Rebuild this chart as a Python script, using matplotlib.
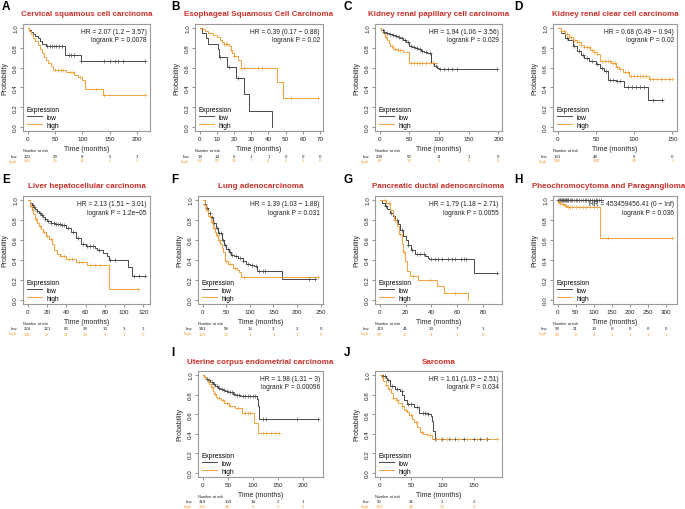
import matplotlib
matplotlib.use('Agg')
import matplotlib.pyplot as plt
import numpy as np
from matplotlib.lines import Line2D
from matplotlib.transforms import blended_transform_factory

plt.rcParams['font.family'] = ['Liberation Sans', 'DejaVu Sans']

# ---------------- data ----------------
A_low_t = [0, 3, 6, 10, 14, 18, 22, 27, 33, 68, 97, 215]
A_low_s = [1, .98, .96, .94, .92, .90, .87, .84, .815, .725, .665, .665]
A_high_t = [0, 3, 6, 10, 14, 18, 22, 26, 30, 34, 38, 42, 46, 56, 70, 85, 92, 100, 104, 138, 215]
A_high_s = [1, .97, .94, .90, .87, .83, .79, .75, .71, .68, .65, .62, .58, .575, .555, .53, .50, .47, .385, .32, .32]
A_low_c = [36, 40, 44, 48, 52, 58, 62, 75, 80, 85, 98, 140, 150, 160, 165, 175, 215]
A_high_c = [50, 55, 60, 65, 78, 82, 95, 125, 140, 215]
A_risk_t = [0, 50, 100, 150, 200]
A_risk_low = [122, 29, 8, 5, 1]
A_risk_high = [182, 33, 12, 2, 1]

B_low_t = [0, 1.5, 3.5, 5, 10.5, 11.5, 16, 21, 25.5, 28.5, 42]
B_low_s = [1, .95, .90, .84, .79, .71, .61, .49, .33, .16, 0]
B_high_t = [0, 1, 3, 5, 8, 10, 12, 13, 14, 17, 18, 19, 20, 22, 24, 45, 48.5, 69]
B_high_s = [1, .99, .97, .95, .93, .91, .88, .86, .84, .82, .78, .75, .72, .68, .60, .45, .29, .29]
B_low_c = [12, 17, 22]
B_high_c = [14, 15, 16, 18, 20, 24, 26, 34, 36, 53, 69]
B_risk_t = [0, 10, 20, 30, 40, 50, 60, 70]
B_risk_low = [19, 14, 6, 1, 1, 0, 0, 0]
B_risk_high = [62, 50, 16, 7, 4, 2, 1, 0]

C_low_t = [0, 3, 6, 10, 15, 20, 25, 30, 35, 40, 45, 50, 55, 60, 65, 70, 75, 80, 87, 92, 97, 100, 198]
C_low_s = [1, .98, .96, .95, .94, .93, .92, .91, .90, .88, .86, .82, .81, .80, .79, .77, .76, .75, .65, .62, .60, .59, .59]
C_high_t = [0, 3, 6, 9, 12, 15, 18, 22, 30, 40, 50, 97]
C_high_s = [1, .98, .95, .91, .88, .85, .82, .79, .78, .76, .65, .65]
C_low_c = [5, 8, 12, 18, 22, 28, 32, 38, 42, 48, 53, 58, 62, 68, 72, 78, 84, 90, 95, 102, 108, 115, 122, 130, 198]
C_high_c = [10, 20, 25, 30, 35, 52, 58, 62, 66, 72, 78, 85, 90]
C_risk_t = [0, 50, 100, 150, 200]
C_risk_low = [200, 53, 11, 1, 0]
C_risk_high = [87, 30, 1, 0, 0]

D_low_t = [0, 5, 10, 14, 20, 25, 30, 35, 41, 50, 55, 61, 65.6, 76, 87, 118, 136]
D_low_s = [1, .95, .90, .88, .82, .77, .73, .70, .667, .637, .60, .57, .475, .46, .40, .27, .27]
D_high_t = [0, 5, 10, 15, 20, 25, 30, 35, 42, 47, 51.5, 55, 62, 70, 76, 80, 85, 93.5, 119, 150]
D_high_s = [1, .97, .94, .91, .88, .855, .83, .81, .78, .76, .74, .67, .665, .65, .61, .59, .56, .52, .48, .48]
D_low_c = [12, 22, 28, 33, 38, 45, 52, 58, 63, 68, 72, 78, 82, 92, 97, 102, 108, 113, 125, 136]
D_high_c = [5, 8, 12, 15, 18, 22, 25, 28, 31, 35, 38, 41, 45, 48, 52, 58, 62, 66, 68, 72, 75, 78, 82,
            88, 92, 96, 100, 104, 108, 112, 116, 121, 125, 130, 135, 140, 145, 150]
D_risk_t = [0, 50, 100, 150]
D_risk_low = [131, 48, 6, 0]
D_risk_high = [395, 180, 34, 1]

E_low_t = [0, 2, 4, 6, 8, 10, 12, 14, 16, 18, 20, 24, 28, 35, 40, 45, 50, 55, 60, 70, 72, 78, 82, 84, 104, 108, 122]
E_low_s = [1, .97, .95, .93, .91, .89, .87, .85, .83, .81, .79, .77, .76, .755, .72, .68, .62, .56, .54, .52, .50, .47, .44, .40, .33, .24, .24]
E_high_t = [0, 2, 4, 6, 8, 10, 12, 14, 16, 19, 22, 25, 27, 30, 33, 40, 50, 61, 84, 114]
E_high_s = [1, .94, .90, .86, .81, .77, .74, .71, .68, .64, .61, .56, .50, .46, .44, .41, .38, .35, .11, .11]
E_low_c = [5, 7, 10, 13, 15, 18, 21, 24, 27, 29, 31, 33, 36, 38, 42, 47, 52, 57, 62, 65, 68, 74, 85, 91, 110, 115, 122]
E_high_c = [3, 5, 9, 13, 17, 20, 24, 35, 38, 43, 46, 53, 56, 65, 70, 75, 114]
E_risk_t = [0, 20, 40, 60, 80, 100, 120]
E_risk_low = [224, 121, 60, 28, 13, 3, 1]
E_risk_high = [140, 57, 21, 13, 6, 1, 0]

F_low_t = [0, 4, 8, 12, 16, 22, 28, 33, 40, 45, 50, 55, 60, 67, 75, 85, 92, 100, 109, 116, 167, 238]
F_low_s = [1, .96, .92, .87, .83, .77, .72, .67, .60, .55, .51, .48, .455, .44, .42, .39, .36, .35, .34, .29, .215, .215]
F_high_t = [0, 4, 8, 12, 17, 22, 26, 29, 33, 36, 40, 43, 47, 54, 64, 72, 78, 82, 245]
F_high_s = [1, .95, .90, .84, .78, .72, .68, .65, .60, .565, .52, .48, .39, .36, .32, .30, .285, .23, .23]
F_low_c = [5, 10, 15, 20, 25, 30, 35, 38, 44, 48, 53, 58, 63, 70, 80, 86, 96, 104, 112, 120, 127, 132, 225, 238]
F_high_c = [6, 10, 15, 20, 25, 30, 35, 50, 58, 68, 88, 245]
F_risk_t = [0, 50, 100, 150, 200, 250]
F_risk_low = [341, 58, 15, 3, 2, 0]
F_risk_high = [153, 16, 1, 1, 1, 0]

G_low_t = [0, 2, 4, 6, 8, 10, 12, 14, 16, 18, 20, 22, 24, 27, 35, 37, 38, 73, 91]
G_low_s = [1, .97, .94, .91, .87, .84, .80, .76, .70, .64, .60, .55, .50, .465, .44, .42, .41, .27, .27]
G_high_t = [0, 5, 8, 10, 11, 13, 15, 17, 18, 19.5, 21, 23.5, 30, 44, 50, 68]
G_high_s = [1, .97, .90, .85, .80, .74, .66, .56, .48, .39, .29, .24, .20, .14, .07, 0]
G_low_c = [5, 9, 13, 17, 22, 25, 29, 31, 34, 40, 43, 45, 48, 53, 56, 58, 63, 65, 67, 91]
G_high_c = [4, 7, 12, 16, 19, 26, 39, 58]
G_risk_t = [0, 20, 40, 60, 80]
G_risk_low = [119, 41, 13, 7, 1]
G_risk_high = [58, 17, 4, 1, 0]

H_low_t = [0, 125]
H_low_s = [1, 1]
H_high_t = [0, 2, 5, 10, 17, 22, 26, 118, 318]
H_high_s = [1, .985, .975, .965, .95, .94, .93, .62, .62]
H_low_c = [2, 4, 6, 8, 10, 12, 14, 16, 18, 20, 22, 24, 26, 28, 30, 33, 36, 40, 45, 50, 55, 60, 65,
           70, 75, 80, 85, 90, 95, 100, 105, 110, 115, 120]
H_high_c = [4, 8, 14, 20, 24, 30, 35, 40, 50, 60, 70, 80, 90, 100, 110, 140, 318]
H_risk_t = [0, 50, 100, 150, 200, 250, 300]
H_risk_low = [90, 21, 10, 0, 0, 0, 0]
H_risk_high = [96, 17, 4, 1, 1, 1, 1]

I_low_t = [0, 3, 6, 10, 15, 20, 25, 30, 35, 40, 45, 50, 60, 65, 75, 108, 110, 112, 113, 230]
I_low_s = [1, .98, .96, .95, .93, .91, .89, .87, .86, .845, .835, .825, .81, .80, .785, .75, .68, .62, .555, .555]
I_high_t = [0, 3, 6, 10, 13, 16, 20, 23, 26, 29, 36, 42, 52, 65, 78, 102, 111, 151]
I_high_s = [1, .98, .96, .93, .91, .88, .84, .81, .78, .76, .74, .71, .685, .665, .615, .515, .41, .41]
I_low_c = [8, 12, 18, 22, 28, 33, 38, 43, 48, 55, 58, 62, 68, 72, 80, 85, 90, 95, 100, 105, 120, 125, 188, 230]
I_high_c = [5, 12, 18, 25, 32, 40, 48, 55, 70, 85, 90, 95, 120, 125, 135, 143, 151]
I_risk_t = [0, 50, 100, 150, 200]
I_risk_low = [319, 103, 14, 2, 1]
I_risk_high = [222, 44, 6, 1, 0]

J_low_t = [0, 6, 10, 12, 16, 25, 32, 36, 38.6, 43, 55, 63, 77, 82, 84, 86, 88, 172]
J_low_s = [1, .99, .97, .95, .89, .86, .835, .795, .74, .70, .675, .615, .605, .58, .53, .43, .35, .35]
J_high_t = [0, 3, 6, 10, 14, 18, 22, 26, 30, 35, 39, 43, 47, 51, 55, 60, 65, 70, 76, 84, 188]
J_high_s = [1, .97, .94, .90, .86, .82, .77, .74, .71, .68, .645, .62, .59, .55, .52, .47, .42, .40, .385, .35, .35]
J_low_c = [6, 8, 14, 20, 28, 35, 45, 50, 60, 70, 73, 77, 88, 100, 110, 120, 135, 150, 160, 172]
J_high_c = [5, 10, 15, 22, 28, 35, 42, 50, 58, 68, 80, 90, 98, 108, 116, 125, 140, 155, 170, 188]
J_risk_t = [0, 50, 100, 150]
J_risk_low = [50, 31, 3, 2]
J_risk_high = [159, 42, 13, 3]

letters = ['A', 'B', 'C', 'D', 'E', 'F', 'G', 'H', 'I', 'J']
titles = ['Cervical squamous cell carcinoma', 'Esophageal Squamous Cell Carcinoma',
          'Kidney renal papillary cell carcinoma', 'Kidney renal clear cell carcinoma',
          'Liver hepatocellular carcinoma', 'Lung adenocarcinoma',
          'Pancreatic ductal adenocarcinoma', 'Pheochromocytoma and Paraganglioma',
          'Uterine corpus endometrial carcinoma', 'Sarcoma']
hr_texts = ['HR = 2.07 (1.2 \u2212 3.57)', 'HR = 0.39 (0.17 \u2212 0.88)', 'HR = 1.94 (1.06 \u2212 3.56)',
            'HR = 0.68 (0.49 \u2212 0.94)', 'HR = 2.13 (1.51 \u2212 3.01)', 'HR = 1.39 (1.03 \u2212 1.88)',
            'HR = 1.79 (1.18 \u2212 2.71)', 'HR = 453459456.41 (0 \u2212 Inf)', 'HR = 1.98 (1.31 \u2212 3)',
            'HR = 1.61 (1.03 \u2212 2.51)']
p_texts = ['logrank P = 0.0078', 'logrank P = 0.02', 'logrank P = 0.029', 'logrank P = 0.02',
           'logrank P = 1.2e\u221205', 'logrank P = 0.031', 'logrank P = 0.0055', 'logrank P = 0.036',
           'logrank P = 0.00096', 'logrank P = 0.034']

curves = {
    'A': (A_low_t, A_low_s, A_low_c, A_high_t, A_high_s, A_high_c, A_risk_t, A_risk_low, A_risk_high),
    'B': (B_low_t, B_low_s, B_low_c, B_high_t, B_high_s, B_high_c, B_risk_t, B_risk_low, B_risk_high),
    'C': (C_low_t, C_low_s, C_low_c, C_high_t, C_high_s, C_high_c, C_risk_t, C_risk_low, C_risk_high),
    'D': (D_low_t, D_low_s, D_low_c, D_high_t, D_high_s, D_high_c, D_risk_t, D_risk_low, D_risk_high),
    'E': (E_low_t, E_low_s, E_low_c, E_high_t, E_high_s, E_high_c, E_risk_t, E_risk_low, E_risk_high),
    'F': (F_low_t, F_low_s, F_low_c, F_high_t, F_high_s, F_high_c, F_risk_t, F_risk_low, F_risk_high),
    'G': (G_low_t, G_low_s, G_low_c, G_high_t, G_high_s, G_high_c, G_risk_t, G_risk_low, G_risk_high),
    'H': (H_low_t, H_low_s, H_low_c, H_high_t, H_high_s, H_high_c, H_risk_t, H_risk_low, H_risk_high),
    'I': (I_low_t, I_low_s, I_low_c, I_high_t, I_high_s, I_high_c, I_risk_t, I_risk_low, I_risk_high),
    'J': (J_low_t, J_low_s, J_low_c, J_high_t, J_high_s, J_high_c, J_risk_t, J_risk_low, J_risk_high),
}

# ---------------- layout (pixels) ----------------
FW, FH = 685, 510
rects = {'A': (23, 25, 150, 132), 'B': (195, 25, 323, 132), 'C': (375, 25, 502, 132), 'D': (553, 25, 677, 132),
         'E': (23, 197, 150, 305), 'F': (198, 197, 323, 305), 'G': (375, 197, 502, 305), 'H': (553, 197, 677, 305),
         'I': (198, 372, 323, 478), 'J': (375, 372, 502, 478)}
title_x = {'H': 609}
letter_pos = {'A': (2, 1), 'B': (171, 1), 'C': (343, 1), 'D': (514, 1),
              'E': (2, 174), 'F': (171, 174), 'G': (344, 174), 'H': (514, 174),
              'I': (171, 347), 'J': (344, 347)}

LOW_C = '#484848'
HIGH_C = '#F2A23C'
TITLE_C = '#C9312B'
FRAME_C = '#9a9a9a'

fig = plt.figure(figsize=(FW / 100, FH / 100), dpi=100)


def fy(p):
    return 1 - p / FH


def step_val(t, s, c):
    t = np.asarray(t)
    s = np.asarray(s)
    idx = np.clip(np.searchsorted(t, c, side='right') - 1, 0, len(s) - 1)
    return s[idx]


for i, L in enumerate(letters):
    lt, ls, lc, ht, hs, hc, rt, rl, rh = curves[L]
    l, t, r, b = rects[L]
    ax = fig.add_axes([l / FW, fy(b), (r - l) / FW, (b - t) / FH])
    xmax = max(max(lt), max(ht))
    ax.step(lt, ls, where='post', color=LOW_C, lw=0.7)
    ax.step(ht, hs, where='post', color=HIGH_C, lw=0.7)
    ax.plot(lc, step_val(lt, ls, lc), '+', color=LOW_C, ms=2.2, mew=0.45, ls='none')
    ax.plot(hc, step_val(ht, hs, hc), '+', color=HIGH_C, ms=2.2, mew=0.45, ls='none')
    ax.set_xlim(-0.04 * xmax, 1.04 * xmax)
    ax.set_ylim(-0.04, 1.04)
    ax.set_xticks(rt)
    ax.set_yticks([0, 0.2, 0.4, 0.6, 0.8, 1.0])
    ax.set_yticklabels(['0.0', '0.2', '0.4', '0.6', '0.8', '1.0'], rotation=90, va='center')
    ax.tick_params(length=2, width=0.5, pad=1.5, labelsize=4.5, color='#666666', labelcolor='#222222')
    for sp in ax.spines.values():
        sp.set_color(FRAME_C)
        sp.set_linewidth(0.8)
    ax.set_ylabel('Probability', fontsize=5, color='#222222')
    ax.set_xlabel('Time (months)', fontsize=5, color='#222222')
    w, h = r - l, b - t
    ax.yaxis.set_label_coords(-15 / w, 0.5)
    ax.xaxis.set_label_coords(0.5, -14 / h)
    ax.text(0.975, 0.965, hr_texts[i] + '\n' + p_texts[i], transform=ax.transAxes, ha='right', va='top',
            fontsize=4.8, linespacing=1.35, color='#222222')
    handles = [Line2D([], [], color=LOW_C, lw=0.7), Line2D([], [], color=HIGH_C, lw=0.7)]
    ax.legend(handles, ['low', 'high'], title='Expression', loc='lower left',
              bbox_to_anchor=(0.02, 0.01), frameon=False, fontsize=4.8, title_fontsize=4.8,
              handlelength=2.3, handletextpad=0.7, labelspacing=0.15, borderaxespad=0,
              borderpad=0.2, alignment='left')
    # title and panel letter
    tx = title_x.get(L, (l + r) / 2)
    fig.text(tx / FW, fy(t - 10), titles[i], ha='center', va='center', fontsize=5.75,
             fontweight='bold', color=TITLE_C)
    lx, ly = letter_pos[L]
    fig.text(lx / FW, fy(ly), L, ha='left', va='top', fontsize=8.5, fontweight='bold', color='black')
    # number at risk
    tr = blended_transform_factory(ax.transData, fig.transFigure)
    fig.text(l / FW, fy(b + 19.5), 'Number at risk', ha='left', va='center', fontsize=2.8, color='#222222')
    fig.text((l - 6) / FW, fy(b + 24.5), 'low', ha='right', va='center', fontsize=3.2, color='#222222')
    fig.text((l - 6) / FW, fy(b + 29.5), 'high', ha='right', va='center', fontsize=3.2, color=HIGH_C)
    for xv, nl, nh in zip(rt, rl, rh):
        ax.text(xv, fy(b + 24.5), str(nl), transform=tr, ha='center', va='center', fontsize=3.2,
                color='#222222', clip_on=False)
        ax.text(xv, fy(b + 29.5), str(nh), transform=tr, ha='center', va='center', fontsize=3.2,
                color=HIGH_C, clip_on=False)

fig.savefig('out.png', dpi=100)
